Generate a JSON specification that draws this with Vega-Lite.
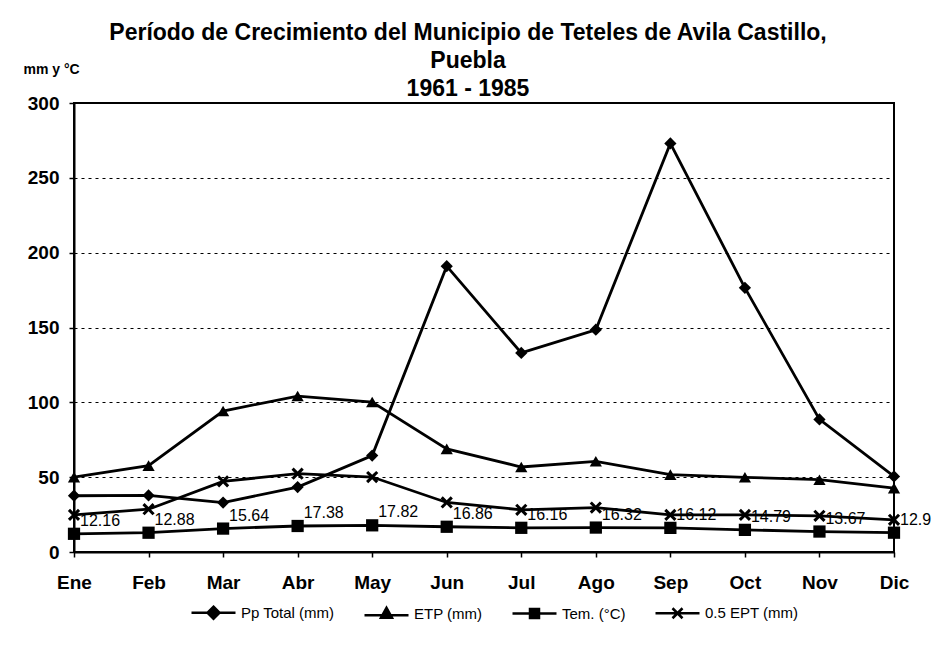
{
  "$schema": "https://vega.github.io/schema/vega-lite/v6.json",
  "width": 820,
  "height": 449,
  "autosize": {"type": "none"},
  "padding": {"left": 74, "top": 103, "right": 53, "bottom": 94},
  "background": "white",
  "title": {
    "text": ["Período de Crecimiento del Municipio de Teteles de Avila Castillo,", "Puebla", "1961 - 1985"],
    "anchor": "middle",
    "font": "Liberation Sans",
    "fontSize": 23,
    "fontWeight": "bold",
    "color": "black",
    "lineHeight": 28,
    "offset": 2,
    "dy": 41,
    "dx": -16
  },
  "config": {
    "view": {"stroke": "black", "strokeWidth": 2},
    "axis": {
      "labelFont": "Liberation Sans",
      "labelFontSize": 19,
      "labelFontWeight": "bold",
      "labelColor": "black",
      "domainColor": "black",
      "domainWidth": 2,
      "tickColor": "black",
      "tickWidth": 1.5,
      "tickSize": 5
    }
  },
  "data": {
    "values": [
      {"mes": "Ene", "serie": "Pp Total (mm)", "valor": 37.6},
      {"mes": "Feb", "serie": "Pp Total (mm)", "valor": 37.8},
      {"mes": "Mar", "serie": "Pp Total (mm)", "valor": 33.0},
      {"mes": "Abr", "serie": "Pp Total (mm)", "valor": 43.4},
      {"mes": "May", "serie": "Pp Total (mm)", "valor": 64.4},
      {"mes": "Jun", "serie": "Pp Total (mm)", "valor": 191.0},
      {"mes": "Jul", "serie": "Pp Total (mm)", "valor": 133.0},
      {"mes": "Ago", "serie": "Pp Total (mm)", "valor": 148.5},
      {"mes": "Sep", "serie": "Pp Total (mm)", "valor": 273.0},
      {"mes": "Oct", "serie": "Pp Total (mm)", "valor": 176.5},
      {"mes": "Nov", "serie": "Pp Total (mm)", "valor": 88.6},
      {"mes": "Dic", "serie": "Pp Total (mm)", "valor": 50.5},
      {"mes": "Ene", "serie": "ETP (mm)", "valor": 50.0},
      {"mes": "Feb", "serie": "ETP (mm)", "valor": 57.7},
      {"mes": "Mar", "serie": "ETP (mm)", "valor": 94.2},
      {"mes": "Abr", "serie": "ETP (mm)", "valor": 104.2},
      {"mes": "May", "serie": "ETP (mm)", "valor": 100.2},
      {"mes": "Jun", "serie": "ETP (mm)", "valor": 68.9},
      {"mes": "Jul", "serie": "ETP (mm)", "valor": 56.8},
      {"mes": "Ago", "serie": "ETP (mm)", "valor": 60.6},
      {"mes": "Sep", "serie": "ETP (mm)", "valor": 51.7},
      {"mes": "Oct", "serie": "ETP (mm)", "valor": 49.9},
      {"mes": "Nov", "serie": "ETP (mm)", "valor": 48.3},
      {"mes": "Dic", "serie": "ETP (mm)", "valor": 42.7},
      {"mes": "Ene", "serie": "Tem. (°C)", "valor": 12.16},
      {"mes": "Feb", "serie": "Tem. (°C)", "valor": 12.88},
      {"mes": "Mar", "serie": "Tem. (°C)", "valor": 15.64},
      {"mes": "Abr", "serie": "Tem. (°C)", "valor": 17.38},
      {"mes": "May", "serie": "Tem. (°C)", "valor": 17.82},
      {"mes": "Jun", "serie": "Tem. (°C)", "valor": 16.86},
      {"mes": "Jul", "serie": "Tem. (°C)", "valor": 16.16},
      {"mes": "Ago", "serie": "Tem. (°C)", "valor": 16.32},
      {"mes": "Sep", "serie": "Tem. (°C)", "valor": 16.12},
      {"mes": "Oct", "serie": "Tem. (°C)", "valor": 14.79},
      {"mes": "Nov", "serie": "Tem. (°C)", "valor": 13.67},
      {"mes": "Dic", "serie": "Tem. (°C)", "valor": 12.9},
      {"mes": "Ene", "serie": "0.5 EPT (mm)", "valor": 24.8},
      {"mes": "Feb", "serie": "0.5 EPT (mm)", "valor": 28.6},
      {"mes": "Mar", "serie": "0.5 EPT (mm)", "valor": 47.2},
      {"mes": "Abr", "serie": "0.5 EPT (mm)", "valor": 52.3},
      {"mes": "May", "serie": "0.5 EPT (mm)", "valor": 50.1},
      {"mes": "Jun", "serie": "0.5 EPT (mm)", "valor": 33.1},
      {"mes": "Jul", "serie": "0.5 EPT (mm)", "valor": 28.2},
      {"mes": "Ago", "serie": "0.5 EPT (mm)", "valor": 29.7},
      {"mes": "Sep", "serie": "0.5 EPT (mm)", "valor": 24.8},
      {"mes": "Oct", "serie": "0.5 EPT (mm)", "valor": 24.8},
      {"mes": "Nov", "serie": "0.5 EPT (mm)", "valor": 24.2},
      {"mes": "Dic", "serie": "0.5 EPT (mm)", "valor": 21.5}
    ]
  },
  "encoding": {
    "x": {
      "field": "mes",
      "type": "ordinal",
      "sort": ["Ene", "Feb", "Mar", "Abr", "May", "Jun", "Jul", "Ago", "Sep", "Oct", "Nov", "Dic"],
      "scale": {"type": "point", "padding": 0},
      "axis": {"title": null, "labelAngle": 0, "labelPadding": 16, "grid": false}
    },
    "y": {
      "field": "valor",
      "type": "quantitative",
      "scale": {"domain": [0, 300], "nice": false},
      "axis": {
        "values": [0, 50, 100, 150, 200, 250, 300],
        "title": "mm y °C",
        "titleAngle": 0,
        "titleAlign": "left",
        "titleBaseline": "middle",
        "titleX": -51,
        "titleY": -34,
        "titleFont": "Liberation Sans",
        "titleFontSize": 14,
        "titleFontWeight": "bold",
        "titleColor": "black",
        "labelPadding": 10,
        "grid": true,
        "gridColor": "black",
        "gridDash": [3, 4],
        "gridWidth": 1.2
      }
    }
  },
  "layer": [
    {
      "mark": {"type": "line", "color": "black", "strokeWidth": 2.8},
      "encoding": {"detail": {"field": "serie", "type": "nominal"}}
    },
    {
      "mark": {"type": "point", "filled": true, "color": "black", "opacity": 1, "size": 150},
      "encoding": {
        "shape": {
          "field": "serie",
          "type": "nominal",
          "scale": {
            "domain": ["Pp Total (mm)", "ETP (mm)", "Tem. (°C)", "0.5 EPT (mm)"],
            "range": ["diamond", "triangle-up", "square", "M-1,-0.65L-0.65,-1L0,-0.35L0.65,-1L1,-0.65L0.35,0L1,0.65L0.65,1L0,0.35L-0.65,1L-1,0.65L-0.35,0Z"]
          },
          "legend": null
        }
      }
    },
    {
      "transform": [{"filter": "datum.serie === 'Tem. (°C)'"}],
      "mark": {"type": "text", "align": "left", "baseline": "middle", "dx": 6, "dy": -13, "font": "Liberation Sans", "fontSize": 16, "color": "black"},
      "encoding": {"text": {"field": "valor", "type": "nominal"}}
    },
    {
      "transform": [{"filter": "datum.valor < 0"}],
      "mark": {"type": "point", "filled": false, "color": "black", "strokeWidth": 2.5, "opacity": 1},
      "encoding": {
        "shape": {
          "field": "serie",
          "type": "nominal",
          "scale": {
            "domain": ["Pp Total (mm)", "ETP (mm)", "Tem. (°C)", "0.5 EPT (mm)"],
            "range": [
              "M-4.4,0H4.4M0,-1.2L1.2,0L0,1.2L-1.2,0ZM0,-0.75L0.75,0L0,0.75L-0.75,0ZM0,-0.3L0.3,0L0,0.3L-0.3,0Z",
              "M-4.4,0.3H4.4M0,-1.2L1.1,0.8L-1.1,0.8ZM0,-0.55L0.55,0.45L-0.55,0.45ZM0,-0.1V0.4",
              "M-4.4,0H4.4M-0.9,-0.9H0.9V0.9H-0.9ZM-0.45,-0.45H0.45V0.45H-0.45Z",
              "M-4.4,0H4.4M-1,-1L1,1M-1,1L1,-1"
            ]
          },
          "legend": {
            "title": null,
            "orient": "none",
            "direction": "horizontal",
            "legendX": 112,
            "legendY": 502,
            "labelFont": "Liberation Sans",
            "labelFontSize": 15,
            "labelColor": "black",
            "symbolSize": 100,
            "symbolStrokeWidth": 2.5,
            "symbolStrokeColor": "black",
            "symbolOpacity": 1,
            "symbolOffset": 20,
            "labelOffset": 20,
            "columnPadding": 24
          }
        }
      }
    }
  ],
  "resolve": {"scale": {"shape": "independent"}, "legend": {"shape": "independent"}}
}
